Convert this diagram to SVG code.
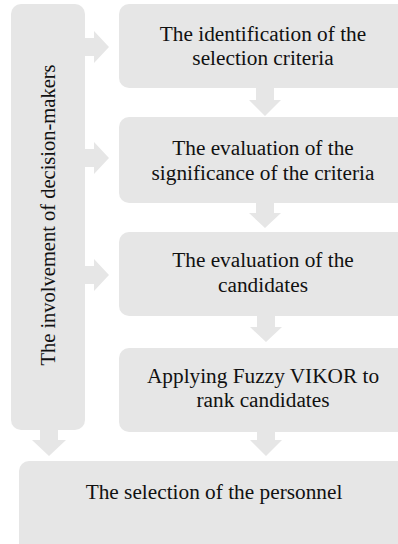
<svg xmlns="http://www.w3.org/2000/svg" width="398" height="544" viewBox="0 0 398 544">
<style>
.box{fill:#e6e6e6;}
.arr{fill:#e6e6e6;}
.t{font-size:21.3px;fill:#111;text-anchor:middle;}
.v{font-size:20.5px;}
</style>
<rect width="398" height="544" fill="#ffffff"/>
<g id="connectors">
<polygon class="arr" points="84,38 94,38 94,31 109,47 94,63 94,56 84,56"/>
<polygon class="arr" points="84,149 94,149 94,142 109,158 94,174 94,167 84,167"/>
<polygon class="arr" points="84,266 94,266 94,259 109,275 94,291 94,284 84,284"/>
<polygon class="arr" points="256,87 274,87 274,100 281,100 265,116 249,100 256,100"/>
<polygon class="arr" points="256,202 274,202 274,213 281,213 265,228 249,213 256,213"/>
<polygon class="arr" points="257,315 275,315 275,327 282,327 266,342 250,327 257,327"/>
<polygon class="arr" points="257,431 275,431 275,440 282,440 266,456 250,440 257,440"/>
<polygon class="arr" points="40,429 58,429 58,440 66,440 49,456 32,440 40,440"/>
</g>
<g font-family="Liberation Serif, serif">
<g id="involvement">
<rect class="box" x="11" y="4" width="74" height="426" rx="10"/>
<text class="t v" transform="translate(55,215) rotate(-90)">The involvement of decision-makers</text>
</g>
<g id="identification">
<rect class="box" x="119" y="4" width="290" height="84" rx="10"/>
<text class="t" x="263" y="41">The identification of the</text>
<text class="t" x="263" y="65">selection criteria</text>
</g>
<g id="significance">
<rect class="box" x="119" y="117" width="290" height="86" rx="10"/>
<text class="t" x="263" y="155">The evaluation of the</text>
<text class="t" x="263" y="180">significance of the criteria</text>
</g>
<g id="candidates">
<rect class="box" x="119" y="232" width="290" height="84" rx="10"/>
<text class="t" x="263" y="267">The evaluation of the</text>
<text class="t" x="263" y="292">candidates</text>
</g>
<g id="vikor">
<rect class="box" x="119" y="348" width="290" height="84" rx="10"/>
<text class="t" x="263" y="383">Applying Fuzzy VIKOR to</text>
<text class="t" x="263" y="407">rank candidates</text>
</g>
<g id="selection">
<rect class="box" x="19" y="461" width="390" height="93" rx="10"/>
<text class="t" x="214" y="499">The selection of the personnel</text>
</g>
</g>
</svg>
